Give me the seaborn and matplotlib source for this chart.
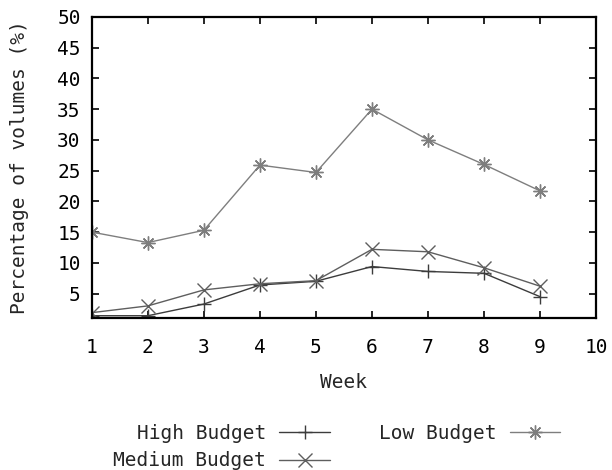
import matplotlib
matplotlib.use("Agg")
import matplotlib.pyplot as plt
import seaborn as sns
import pandas as pd

# Weekly share of volumes per budget group
weeks = [1, 2, 3, 4, 5, 6, 7, 8, 9]
high_budget = [1.4, 1.4, 3.3, 6.4, 7.0, 9.4, 8.6, 8.3, 4.5]
medium_budget = [1.9, 3.0, 5.6, 6.6, 7.1, 12.2, 11.8, 9.2, 6.2]
low_budget = [15.0, 13.3, 15.3, 25.9, 24.7, 35.0, 30.0, 26.0, 21.7]

series_names = ["High Budget", "Medium Budget", "Low Budget"]
x_ticks = [1, 2, 3, 4, 5, 6, 7, 8, 9, 10]
y_ticks = [5, 10, 15, 20, 25, 30, 35, 40, 45, 50]

df = pd.DataFrame({
    "Week": weeks * 3,
    "Value": high_budget + medium_budget + low_budget,
    "Series": [series_names[0]] * len(weeks)
    + [series_names[1]] * len(weeks)
    + [series_names[2]] * len(weeks),
})

sns.set_theme(style="ticks")
fs = 14
plt.rcParams["font.family"] = ["DejaVu Sans Mono"]
plt.rcParams.update({
    "font.size": fs,
    "axes.labelsize": fs,
    "xtick.labelsize": fs,
    "ytick.labelsize": fs,
    "legend.fontsize": fs,
})

fig = plt.figure(figsize=(6.12, 4.70), dpi=100)
ax = fig.add_axes([0.150, 0.323, 0.824, 0.641])

colors = {"High Budget": "#3c3c3c", "Medium Budget": "#5e5e5e", "Low Budget": "#7e7e7e"}
markers = {"High Budget": "+", "Medium Budget": "x", "Low Budget": (8, 2, 0)}

for name in series_names:
    sub = df[df["Series"] == name]
    sns.lineplot(data=sub, x="Week", y="Value", ax=ax, color=colors[name],
                 marker=markers[name], markersize=10, markeredgewidth=1.0,
                 markeredgecolor=colors[name], linewidth=1.0, label=name,
                 legend=False)

ax.set_xlim(1, 10)
ax.set_ylim(1, 50)
ax.set_xticks(x_ticks)
ax.set_yticks(y_ticks)
ax.tick_params(direction="in", length=5, width=1.2, top=True, right=True,
               labeltop=False, labelright=False, colors="black", pad=8)
ax.tick_params(axis="x", pad=14)
for s in ax.spines.values():
    s.set_visible(True)
    s.set_linewidth(1.6)
    s.set_color("black")
ax.set_xlabel("Week", labelpad=12)
ax.set_ylabel("Percentage of volumes (%)", labelpad=20)

handles, labels = ax.get_legend_handles_labels()
fig.legend(handles, labels, ncol=2, markerfirst=False, frameon=False,
           loc="upper center", bbox_to_anchor=(0.55, 0.115),
           handlelength=2.6, columnspacing=2.5, labelspacing=0.45,
           handletextpad=0.7, borderaxespad=0)

fig.savefig("out.png", dpi=100)
